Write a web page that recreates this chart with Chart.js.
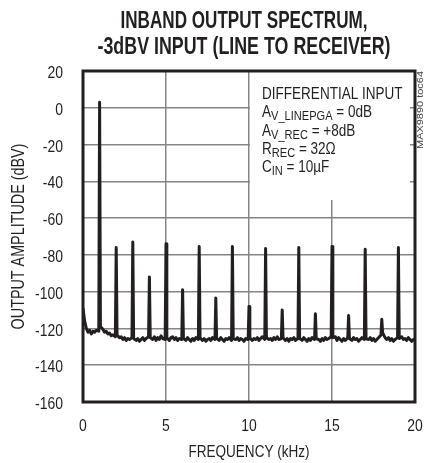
<!DOCTYPE html>
<html><head><meta charset="utf-8">
<script src="https://cdn.jsdelivr.net/npm/chart.js@4.4.1/dist/chart.umd.min.js"></script>
<style>html,body{margin:0;padding:0;background:#fff}#wrap{width:424px;height:463px}</style>
</head><body><div id="wrap"><canvas id="c" width="424" height="463"></canvas></div>
<script>
const titleLines = ['INBAND OUTPUT SPECTRUM,', '-3dBV INPUT (LINE TO RECEIVER)'];
const xAxisTitle = 'FREQUENCY (kHz)';
const yAxisTitle = 'OUTPUT AMPLITUDE (dBV)';
const sideNote = 'MAX9890 toc64';
const xTickValues = [0, 5, 10, 15, 20];
const yTickValues = [20, 0, -20, -40, -60, -80, -100, -120, -140, -160];
const conditionLines = [
  [['DIFFERENTIAL INPUT', 'n']],
  [['A', 'n'], ['V_LINEPGA', 's'], [' = 0dB', 'n']],
  [['A', 'n'], ['V_REC', 's'], [' = +8dB', 'n']],
  [['R', 'n'], ['REC', 's'], [' = 32\u03A9', 'n']],
  [['C', 'n'], ['IN', 's'], [' = 10\u00B5F', 'n']]
];
const freqKHz = [
  0.0,0.1,0.2,0.3,0.4,0.5,0.6,0.7,0.8,0.95,
  1.0,1.05,1.2,1.3,1.4,1.5,1.6,1.7,1.8,1.95,
  2.0,2.05,2.2,2.3,2.4,2.5,2.6,2.7,2.8,2.95,
  3.0,3.05,3.2,3.3,3.4,3.5,3.6,3.7,3.8,3.95,
  4.0,4.05,4.2,4.3,4.4,4.5,4.6,4.7,4.8,4.95,
  5.0,5.05,5.2,5.3,5.4,5.5,5.6,5.7,5.8,5.95,
  6.0,6.05,6.2,6.3,6.4,6.5,6.6,6.7,6.8,6.95,
  7.0,7.05,7.2,7.3,7.4,7.5,7.6,7.7,7.8,7.95,
  8.0,8.05,8.2,8.3,8.4,8.5,8.6,8.7,8.8,8.95,
  9.0,9.05,9.2,9.3,9.4,9.5,9.6,9.7,9.8,9.95,
  10.0,10.05,10.2,10.3,10.4,10.5,10.6,10.7,10.8,10.95,
  11.0,11.05,11.2,11.3,11.4,11.5,11.6,11.7,11.8,11.95,
  12.0,12.05,12.2,12.3,12.4,12.5,12.6,12.7,12.8,12.95,
  13.0,13.05,13.2,13.3,13.4,13.5,13.6,13.7,13.8,13.95,
  14.0,14.05,14.2,14.3,14.4,14.5,14.6,14.7,14.8,14.95,
  15.0,15.05,15.2,15.3,15.4,15.5,15.6,15.7,15.8,15.95,
  16.0,16.05,16.2,16.3,16.4,16.5,16.6,16.7,16.8,16.95,
  17.0,17.05,17.2,17.3,17.4,17.5,17.6,17.7,17.8,17.95,
  18.0,18.05,18.2,18.3,18.4,18.5,18.6,18.7,18.8,18.95,
  19.0,19.05,19.2,19.3,19.4,19.5,19.6,19.7,19.8,19.9,
  20.0
];
const outputDbv = [
  -109,-116,-120,-122,-121,-123,-121.5,-122,-121,-121.5,
  3,-119,-120.5,-122,-121.5,-123,-122.5,-124,-123.5,-124.5,
  -76,-123.5,-125,-124.5,-126,-125,-126.5,-125.5,-126,-125,
  -73,-125.5,-126.5,-125.5,-127,-126,-125,-126.5,-125.5,-124.5,
  -92,-125,-126,-124.5,-126.5,-125,-126,-124,-125.5,-126,
  -74,-125,-126.5,-125,-124.5,-126,-125,-126.5,-125.5,-126,
  -99,-125.5,-126.5,-125,-126,-127,-125.5,-126.5,-125,-126,
  -75.5,-125,-126.5,-125.5,-127,-126,-125.5,-126.5,-125,-126,
  -103.5,-125.5,-126.5,-125,-126,-127,-125.5,-126,-125,-126.5,
  -75.5,-125.5,-126,-125,-126.5,-125.5,-126,-127,-125.5,-126,
  -108,-125,-126.5,-125.5,-126,-125,-126.5,-125.5,-124.5,-126,
  -76.5,-125,-126,-125.5,-126.5,-125,-126,-124.5,-126,-125.5,
  -110,-125,-126.5,-125.5,-127,-125.5,-126,-125,-126.5,-125.5,
  -76,-125.5,-126.5,-125,-126,-127,-125.5,-126.5,-125,-126,
  -112,-125.5,-126,-127,-125.5,-126.5,-125,-126,-125.5,-124.5,
  -75.5,-125,-124.5,-126.5,-125,-126,-127,-125.5,-126.5,-125,
  -113,-125.5,-126.5,-125,-126,-125.5,-127,-126,-125,-126,
  -77,-125.5,-126,-125,-126.5,-125.5,-127,-126,-125,-123.5,
  -115,-122.5,-125,-126,-125,-126.5,-125.5,-127,-126,-125,
  -76,-125.5,-124.5,-126,-125.5,-126.5,-125,-126,-127,-126,
  -126.5
];

const FONT = '"Liberation Sans", Arial, sans-serif';
const INK = '#231f20';
const SQUEEZE = 0.82;

// draw horizontally condensed text (Arial Narrow look); y is the visual centre of capitals
function narrow(ctx, text, x, y, size, o = {}) {
  ctx.save();
  ctx.font = (o.bold ? 'bold ' : '') + size + 'px ' + FONT;
  ctx.fillStyle = o.color || INK;
  ctx.translate(x, y);
  if (o.rot) ctx.rotate(o.rot);
  let sx = SQUEEZE;
  if (o.width) sx = o.width / ctx.measureText(text).width;
  ctx.scale(sx, 1);
  ctx.textAlign = o.align || 'center';
  ctx.textBaseline = 'alphabetic';
  ctx.fillText(text, 0, 0.358 * size);
  ctx.restore();
}

const decor = {
  id: 'decor',
  beforeDatasetsDraw(chart) {
    const ctx = chart.ctx, a = chart.chartArea;
    ctx.save();
    ctx.fillStyle = '#fff';
    ctx.fillRect(a.left + 167, a.top, 160, 129);
    ctx.restore();
  },
  afterDatasetsDraw(chart) {
    const ctx = chart.ctx, a = chart.chartArea;
    const xs = chart.scales.x, ys = chart.scales.y;
    ctx.save();
    ctx.strokeStyle = INK;
    ctx.lineWidth = 3;
    ctx.strokeRect(a.left, a.top, a.right - a.left, a.bottom - a.top);
    ctx.restore();
    // tick labels through the library scales
    xTickValues.forEach(v => narrow(ctx, String(v), xs.getPixelForValue(v), a.bottom + 23, 17));
    yTickValues.forEach(v => narrow(ctx, String(v), 63, ys.getPixelForValue(v) + 1, 17, { align: 'right' }));
    // axis titles
    narrow(ctx, xAxisTitle, (a.left + a.right) / 2, 451, 16.5);
    narrow(ctx, yAxisTitle, 17.5, (a.top + a.bottom) / 2, 17.5, { rot: -Math.PI / 2 });
    // chart title
    narrow(ctx, titleLines[0], 244, 20, 23, { bold: true, width: 247 });
    narrow(ctx, titleLines[1], 244, 46, 23, { bold: true, width: 293 });
    // side note
    narrow(ctx, sideNote, 420, 110, 9.5, { rot: -Math.PI / 2, width: 78, color: '#444' });
    // condition text
    const baselines = [99, 117, 136, 154, 172];
    conditionLines.forEach((segs, i) => {
      ctx.save();
      ctx.fillStyle = INK;
      ctx.textAlign = 'left';
      ctx.textBaseline = 'alphabetic';
      ctx.translate(a.left + 179, baselines[i]);
      ctx.scale(SQUEEZE, 1);
      let x = 0;
      segs.forEach(([t, kind]) => {
        ctx.font = (kind === 's' ? '13.5px ' : '16.5px ') + FONT;
        ctx.fillText(t, x, kind === 's' ? 3 : 0);
        x += ctx.measureText(t).width;
      });
      ctx.restore();
    });
  }
};

const chart = new Chart(document.getElementById('c'), {
  type: 'line',
  data: {
    datasets: [{
      data: freqKHz.map((f, i) => ({ x: f, y: outputDbv[i] })),
      borderColor: INK,
      borderWidth: 3,
      borderJoinStyle: 'round',
      pointRadius: 0,
      tension: 0,
      fill: false
    }]
  },
  options: {
    responsive: false,
    devicePixelRatio: 1,
    animation: false,
    layout: { padding: { top: 71, right: 9, bottom: 0, left: 0 } },
    plugins: { legend: { display: false }, tooltip: { enabled: false }, title: { display: false } },
    scales: {
      x: {
        type: 'linear', min: 0, max: 20,
        afterBuildTicks: s => { s.ticks = xTickValues.map(v => ({ value: v })); },
        afterFit: s => { s.height = 61; s.paddingLeft = 0; s.paddingRight = 0; },
        grid: { color: '#858585', lineWidth: 1.5, drawTicks: false },
        border: { display: false },
        ticks: { display: false }
      },
      y: {
        type: 'linear', min: -160, max: 20,
        afterBuildTicks: s => { s.ticks = yTickValues.map(v => ({ value: v })); },
        afterFit: s => { s.width = 83; s.paddingTop = 0; s.paddingBottom = 0; },
        grid: { color: '#858585', lineWidth: 1.5, drawTicks: false },
        border: { display: false },
        ticks: { display: false }
      }
    }
  },
  plugins: [decor]
});
</script>
</body></html>
